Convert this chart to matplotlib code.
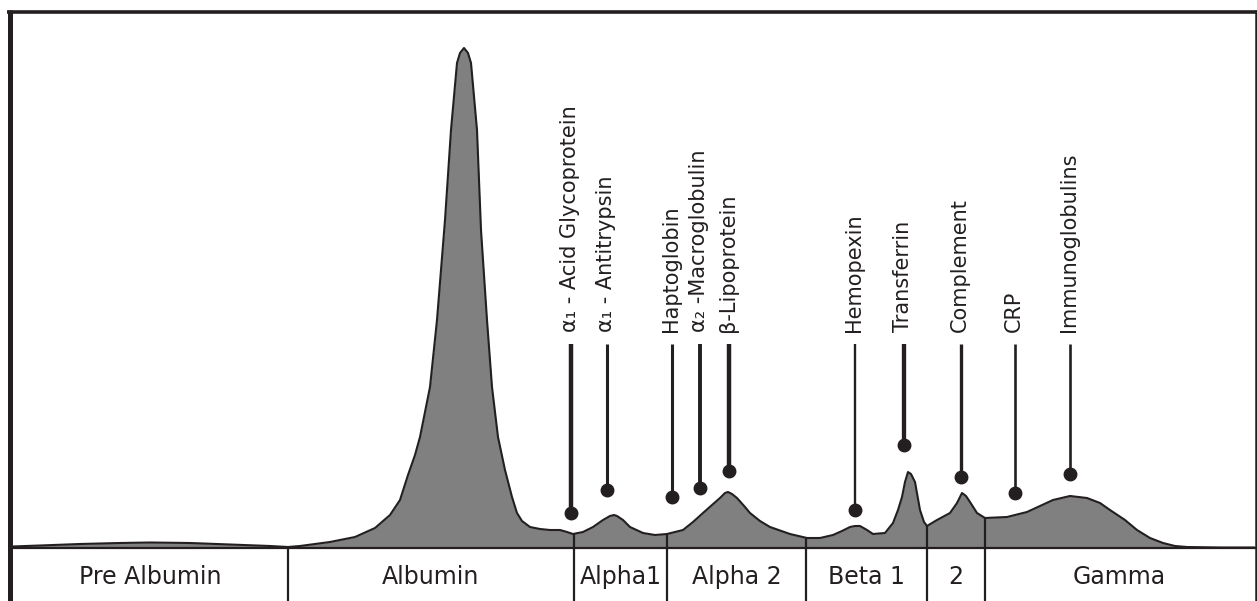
import matplotlib
matplotlib.use("Agg")
import matplotlib.pyplot as plt
import numpy as np

# ---------------- data (x = mobility position, h = intensity above baseline) -------------
curve_x = [12, 40, 80, 120, 150, 190, 230, 270, 288, 300, 330, 355, 375, 390, 400, 408,
           415, 420, 430, 437, 445, 451, 457, 460, 464, 468, 471, 477, 481, 487, 492, 498,
           505, 512, 517, 522, 530, 540, 550, 560, 567, 573, 583, 593, 603, 610, 614, 617,
           623, 630, 643, 655, 667, 683, 693, 703, 712, 720, 725, 728, 732, 737, 745, 750,
           760, 770, 790, 807, 820, 833, 842, 850, 855, 860, 867, 873, 885, 893, 898, 902,
           905, 908, 911, 915, 920, 924, 927, 937, 950, 957, 962, 966, 970, 977, 985, 1007,
           1027, 1040, 1053, 1070, 1087, 1100, 1110, 1125, 1137, 1150, 1163, 1175, 1187,
           1220, 1254]
curve_h = [0.5, 1.5, 3, 4, 4.5, 4, 2.5, 1, 0, 1, 5, 10, 19, 32, 47, 72,
           92, 110, 160, 227, 327, 417, 484, 494, 499, 494, 484, 417, 317, 227, 160, 110,
           77, 50, 34, 26, 20, 18, 17, 17, 15, 13, 15, 20, 27, 31, 32, 31,
           27, 20, 14, 12, 13, 17, 25, 34, 42, 49, 54, 55, 53, 49, 40, 34,
           26, 20, 13, 9, 9, 12, 16, 20, 21, 21, 17, 13, 14, 24, 37, 50,
           65, 75, 73, 65, 37, 25, 21, 27, 34, 44, 54, 51, 45, 34, 29, 30,
           35, 41, 47, 51, 49, 44, 37, 27, 17, 9, 4, 1, 0,
           -0.5, -0.5]

band_edges = [12, 288, 574, 667, 806, 927, 985, 1254]
band_labels = ["Pre Albumin", "Albumin", "Alpha1", "Alpha 2", "Beta 1", "2", "Gamma"]

protein_labels = ["α₁ - Acid Glycoprotein", "α₁ - Antitrypsin", "Haptoglobin",
                  "α₂ -Macroglobulin", "β-Lipoprotein", "Hemopexin", "Transferrin",
                  "Complement", "CRP", "Immunoglobulins"]
protein_x = [571, 607, 672, 700, 729, 855, 904, 961, 1015, 1070]
protein_dot_h = [34, 57, 50, 59, 76, 37, 102, 70, 54, 73]
stem_widths = [3.2, 2.2, 2.2, 2.8, 3.2, 1.7, 3.1, 2.4, 1.9, 1.9]

# ---------------- figure ----------------
W, H = 1257, 601
BASE = 547  # pixel row of baseline
fig = plt.figure(figsize=(W / 100, H / 100), dpi=100)
ax = fig.add_axes([0, 0, 1, 1])
ax.set_xlim(0, W)
ax.set_ylim(BASE - H, BASE)
ax.axis("off")

ink = "#231f20"
gray = "#808080"

cx = np.array(curve_x, dtype=float)
ch = np.array(curve_h, dtype=float)
ax.fill_between(cx, 0, ch, color=gray, lw=0, zorder=1)
ax.plot(cx, ch, color=ink, lw=1.5, solid_joinstyle="round", zorder=3)

# frame
ax.plot([7, W], [BASE - 11.5, BASE - 11.5], color=ink, lw=2.6, solid_capstyle="butt", zorder=5)
ax.plot([9.5, 9.5], [BASE - 10, BASE - H], color=ink, lw=3.6, solid_capstyle="butt", zorder=5)
ax.plot([1255.5, 1255.5], [BASE - 10, BASE - H], color=ink, lw=1.8, solid_capstyle="butt", zorder=5)
ax.plot([9.5, W], [-0.5, -0.5], color=ink, lw=1.6, zorder=5)

# band separators
for e in band_edges[1:-1]:
    top = max(float(np.interp(e, cx, ch)), 0)
    ax.plot([e, e], [BASE - H, top], color=ink, lw=1.6, solid_capstyle="butt", zorder=4)

# band labels
for i, lab in enumerate(band_labels):
    xc = (band_edges[i] + band_edges[i + 1]) / 2
    ax.text(xc, BASE - 584, lab, ha="center", va="baseline", fontsize=17,
            family="DejaVu Sans", color=ink)

# protein stems and labels
for lab, x, dh, w in zip(protein_labels, protein_x, protein_dot_h, stem_widths):
    ax.plot([x, x], [BASE - 344, dh], color=ink, lw=w, solid_capstyle="butt", zorder=4)
    ax.plot([x], [dh], "o", color=ink, ms=9, zorder=4)
    ax.text(x - 1, BASE - 332, lab, rotation=90, ha="center", va="bottom",
            fontsize=15, family="DejaVu Sans", color=ink)

fig.savefig("out.png", dpi=100)
